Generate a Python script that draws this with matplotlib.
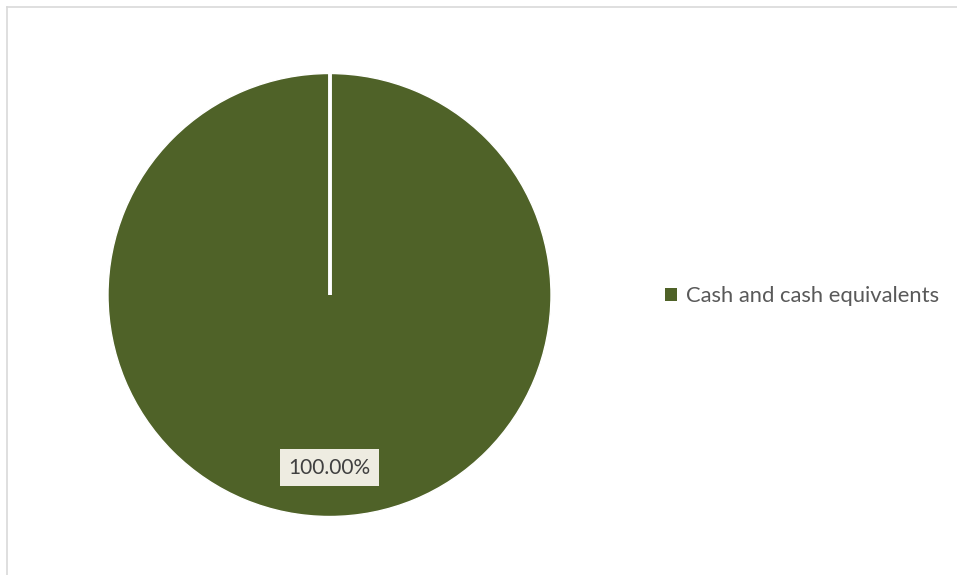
import matplotlib
matplotlib.use("Agg")
import matplotlib.pyplot as plt
from matplotlib.patches import Patch
from matplotlib.lines import Line2D

categories = ["Cash and cash equivalents"]
values = [100.0]
colors = ["#4F6228"]

W, H = 957, 575
fig = plt.figure(figsize=(W / 100, H / 100), dpi=100)
fig.patch.set_facecolor("white")

# chart border (top and left visible)
fig.add_artist(Line2D([7 / W, 1.0], [1 - 7 / H, 1 - 7 / H], transform=fig.transFigure,
                      color="#D9D9D9", lw=1.2))
fig.add_artist(Line2D([7 / W, 7 / W], [0, 1 - 7 / H], transform=fig.transFigure,
                      color="#D9D9D9", lw=1.2))

cx, cy, r = 329.5, 295, 221.5
ax = fig.add_axes([(cx - r) / W, (H - cy - r) / H, 2 * r / W, 2 * r / H])
wedges, _ = ax.pie(values, colors=colors, startangle=90, counterclock=False, radius=1.0,
                   wedgeprops=dict(edgecolor="white", linewidth=1.0))
ax.set_xlim(-1, 1)
ax.set_ylim(-1, 1)
ax.set_aspect("auto")
ax.axis("off")
# slice boundary at 12 o'clock (single full slice)
ax.plot([0, 0], [0, 1.0], color="white", lw=2.8, solid_capstyle="butt", zorder=5)

total = sum(values)
ax.text(0.0, -0.78, f"{values[0] / total * 100:.2f}%", ha="center", va="center",
        fontsize=15, color="#404040", family="Lato",
        bbox=dict(boxstyle="square,pad=0.4", fc="#EEECE1", ec="none"), zorder=6)

handles = [Patch(facecolor=c, edgecolor="none") for c in colors]
leg = fig.legend(handles, categories, loc="center left", bbox_to_anchor=(645 / W, 1 - 296 / H),
                 frameon=False, prop=dict(family="Lato", size=15.8), handlelength=0.55,
                 handleheight=0.55, handletextpad=0.4, labelcolor="#595959")

fig.savefig("out.png", dpi=100)
